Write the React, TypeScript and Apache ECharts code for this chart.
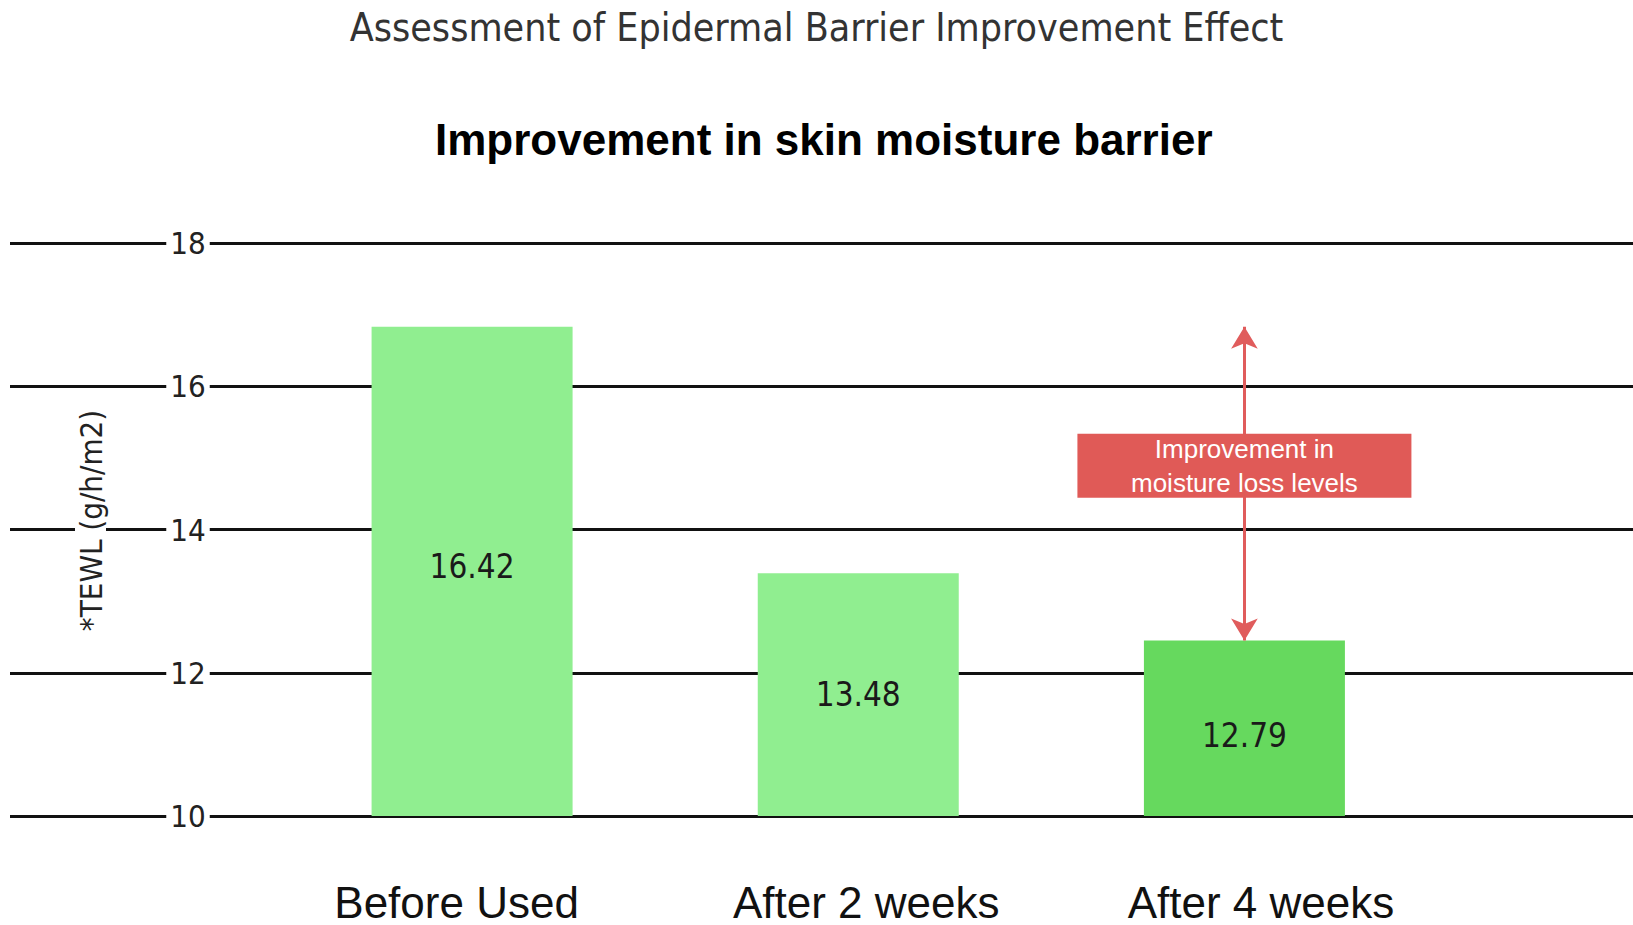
import React, { useEffect, useRef } from "react";
import * as echarts from "echarts";

const categories = ["Before Used", "After 2 weeks", "After 4 weeks"];
const barValues = [16.83, 13.39, 12.45];
const valueLabels = ["16.42", "13.48", "12.79"];
const barColors = ["#90ee90", "#90ee90", "#66d95e"];
const yMin = 10;
const yMax = 18;
const yInterval = 2;
const yAxisName = "*TEWL (g/h/m2)";
const mainTitle = "Assessment of Epidermal Barrier Improvement Effect";
const subTitle = "Improvement in skin moisture barrier";
const annotationText = "Improvement in\nmoisture loss levels";
const annotationValue = 14.89;

// style-only nudges so labels sit where the reference puts them
const categoryLabelPadding = [
  [0, 31, 0, 0],
  [0, 0, 0, 16],
  [0, 0, 0, 33],
];
const valueLabelOffsets = [
  [0, -5],
  [0, 0],
  [0, 7],
];

const NARROW = "'Liberation Sans Narrow', 'DejaVu Sans Condensed', sans-serif";
const SANS = "'Liberation Sans', Arial, sans-serif";

export default function App() {
  const ref = useRef<HTMLDivElement>(null);
  useEffect(() => {
    document.body.style.margin = "0";
    const chart = echarts.init(ref.current!, null, { renderer: "svg" });
    const option = {
      animation: false,
      backgroundColor: "#ffffff",
      title: [
        {
          text: mainTitle,
          left: "center",
          top: 8,
          padding: 0,
          textStyle: { fontFamily: NARROW, fontSize: 39, fontWeight: "normal", color: "#333" },
        },
        {
          text: subTitle,
          left: 435,
          top: 117,
          padding: 0,
          textStyle: { fontFamily: SANS, fontSize: 44, fontWeight: "bold", color: "#000" },
        },
      ],
      grid: [
        { left: 10, right: 0, top: 243, bottom: 109, outerBoundsMode: "none", containLabel: false },
        { left: 279, width: 1158.5, top: 243, bottom: 109, outerBoundsMode: "none", containLabel: false },
      ],
      xAxis: [
        { type: "value", gridIndex: 0, show: false, min: 0, max: 1 },
        {
          type: "category",
          gridIndex: 1,
          data: categories.map((c, i) => ({
            value: c,
            textStyle: { padding: categoryLabelPadding[i] },
          })),
          axisLine: { show: false },
          axisTick: { show: false },
          axisLabel: {
            margin: 64,
            fontFamily: SANS,
            fontSize: 44,
            lineHeight: 44,
            color: "#111",
          },
        },
      ],
      yAxis: [
        {
          type: "value",
          gridIndex: 0,
          min: yMin,
          max: yMax,
          interval: yInterval,
          axisLine: { show: false },
          axisTick: { show: false },
          axisLabel: { show: false },
          splitLine: { show: true, lineStyle: { color: "#111", width: 3 } },
        },
        {
          type: "value",
          gridIndex: 0,
          position: "left",
          z: 5,
          min: yMin,
          max: yMax,
          interval: yInterval,
          axisLine: { show: false },
          axisTick: { show: false },
          splitLine: { show: false },
          axisLabel: {
            inside: true,
            margin: 178,
            align: "center",
            fontFamily: NARROW,
            fontSize: 31,
            color: "#222",
            backgroundColor: "#ffffff",
            padding: [0, 4],
          },
          name: yAxisName,
          nameLocation: "middle",
          nameRotate: 90,
          nameGap: -96,
          nameMoveOverlap: false,
          nameTextStyle: {
            fontFamily: NARROW,
            fontSize: 31,
            color: "#222",
            backgroundColor: "#ffffff",
            padding: [0, 2, 0, 20],
          },
        },
        { type: "value", gridIndex: 1, show: false, min: yMin, max: yMax, interval: yInterval },
      ],
      series: [
        {
          type: "bar",
          xAxisIndex: 1,
          yAxisIndex: 2,
          barWidth: 201,
          data: barValues.map((v, i) => ({
            value: v,
            itemStyle: { color: barColors[i] },
            label: { offset: valueLabelOffsets[i] },
          })),
          label: {
            show: true,
            position: "inside",
            formatter: (p: any) => valueLabels[p.dataIndex],
            fontFamily: NARROW,
            fontSize: 33,
            color: "#1a1a1a",
          },
          markLine: {
            silent: true,
            z: 5,
            symbol: ["arrow", "arrow"],
            symbolSize: [20, 22],
            label: { show: false },
            lineStyle: { color: "#e05c5c", width: 3, type: "solid" },
            data: [
              [
                { coord: [categories[2], barValues[0]] },
                { coord: [categories[2], barValues[2]] },
              ],
            ],
          },
          markPoint: {
            silent: true,
            z: 10,
            symbol: "rect",
            symbolSize: [334, 64],
            itemStyle: { color: "#e05a57" },
            label: {
              show: true,
              position: "inside",
              color: "#ffffff",
              fontFamily: SANS,
              fontSize: 26,
              lineHeight: 34,
              padding: [4, 0, 0, 0],
              formatter: annotationText,
            },
            data: [{ coord: [categories[2], annotationValue] }],
          },
        },
      ],
    };
    chart.setOption(option as any);
    return () => chart.dispose();
  }, []);
  return <div ref={ref} style={{ width: 1633, height: 925 }} />;
}
